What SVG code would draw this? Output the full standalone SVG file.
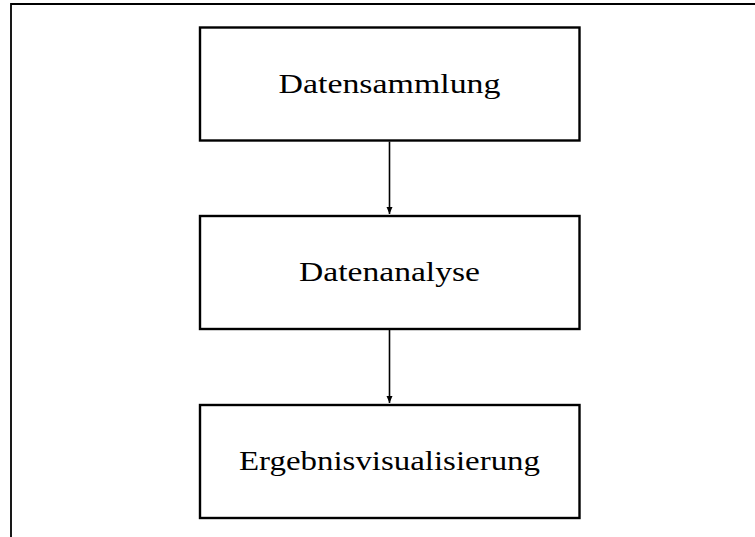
<svg xmlns="http://www.w3.org/2000/svg" width="755" height="537" viewBox="0 0 755 537">
<style>
.box{fill:#fff;stroke:#000;stroke-width:2.4}
.lbl{font-family:"Liberation Serif","Times New Roman",serif;font-size:28px;fill:#000;text-anchor:middle}
.frame{fill:none;stroke:#000;stroke-width:1.8}
.conn{stroke:#000;stroke-width:1.6;fill:none}
</style>
<defs>
<marker id="arr" markerWidth="8" markerHeight="8" refX="7" refY="3" orient="auto" markerUnits="userSpaceOnUse">
<path d="M0,0 L7,3 L0,6 Z" fill="#000"/>
</marker>
</defs>
<rect width="755" height="537" fill="#fff"/>
<path class="frame" d="M11,537 V4 H755"/>
<g id="n1"><rect class="box" x="200" y="27.5" width="379.5" height="113"/><text class="lbl" x="389.5" y="93" textLength="222" lengthAdjust="spacingAndGlyphs">Datensammlung</text></g>
<g id="n2"><rect class="box" x="200" y="216" width="379.5" height="113"/><text class="lbl" x="389.5" y="281" textLength="181" lengthAdjust="spacingAndGlyphs">Datenanalyse</text></g>
<g id="n3"><rect class="box" x="200" y="405" width="379.5" height="113"/><text class="lbl" x="389.5" y="470" textLength="301" lengthAdjust="spacingAndGlyphs">Ergebnisvisualisierung</text></g>
<g id="connectors">
<line class="conn" x1="389.5" y1="141.5" x2="389.5" y2="214" marker-end="url(#arr)"/>
<line class="conn" x1="389.5" y1="330" x2="389.5" y2="403" marker-end="url(#arr)"/>
</g>
</svg>
